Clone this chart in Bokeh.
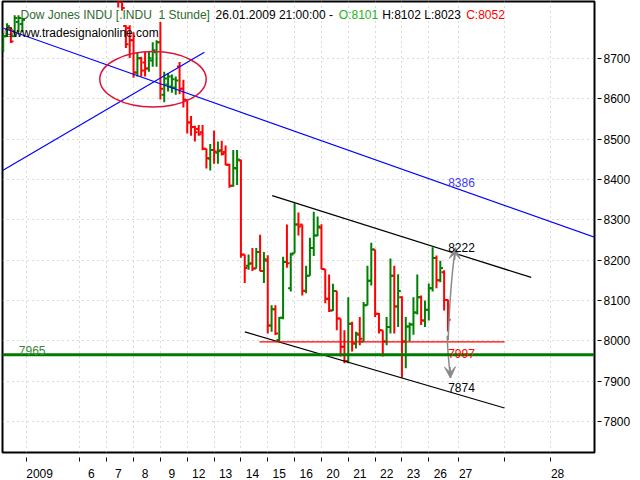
from bokeh.plotting import figure
from bokeh.models import ColumnDataSource, Range1d, FixedTicker, Label, Arrow, VeeHead, Span
from bokeh.embed import file_html
from bokeh.resources import INLINE

# ---------------- data ----------------
# day index: 0=31.12.2008, 1=02.01, 2=05.01, 3=06.01, 4=07.01, 5=08.01, 6=09.01, 7=12.01,
# 8=13.01, 9=14.01, 10=15.01, 11=16.01, 12=20.01, 13=21.01, 14=22.01, 15=23.01, 16=26.01
bar_day = ([0] * 6 + [4] * 4 + [5] * 7 + [6] * 7 + [7] * 7 + [8] * 7 + [9] * 7 + [10] * 7
           + [11] * 7 + [12] * 7 + [13] * 7 + [14] * 7 + [15] * 7 + [16] * 6)
bar_slot = ([1, 2, 3, 4, 5, 6] + [3, 4, 5, 6] + list(range(7)) * 12 + [0, 1, 2, 3, 4, 5])

bar_open = [8725, 8755, 8775, 8755, 8790, 8785,
            8900, 8850, 8780, 8775,
            8745, 8665, 8700, 8690, 8675, 8695, 8715,
            8740, 8610, 8635, 8630, 8628, 8680, 8625,
            8597, 8541, 8530, 8525, 8517, 8476, 8451,
            8473, 8466, 8472, 8468, 8436, 8384, 8427,
            8447, 8214, 8186, 8192, 8179, 8220, 8173,
            8198, 8038, 8078, 8002, 8057, 8196, 8130,
            8217, 8288, 8288, 8123, 8161, 8230, 8261,
            8280, 8177, 8104, 8075, 8123, 8055, 7985,
            7949, 8042, 7993, 8015, 7998, 8088, 8149,
            8226, 8067, 8026, 7998, 8034, 8161, 8085,
            8108, 7998, 8035, 8040, 8070, 8108, 8050,
            8077, 8130, 8205, 8150, 8170, 8101]
bar_high = [8762, 8787, 8778, 8807, 8807, 8800,
            8920, 8870, 8782, 8782,
            8765, 8716, 8704, 8716, 8716, 8740, 8745,
            8790, 8667, 8664, 8660, 8655, 8691, 8647,
            8598, 8557, 8533, 8535, 8535, 8476, 8488,
            8521, 8494, 8496, 8484, 8439, 8473, 8473,
            8449, 8214, 8214, 8230, 8230, 8263, 8220,
            8212, 8088, 8088, 8059, 8208, 8288, 8218,
            8341, 8318, 8288, 8186, 8255, 8320, 8308,
            8289, 8177, 8164, 8141, 8123, 8055, 8026,
            8108, 8047, 8022, 8059, 8096, 8186, 8243,
            8226, 8069, 8026, 8059, 8204, 8186, 8165,
            8110, 8059, 8045, 8108, 8164, 8112, 8100,
            8142, 8232, 8211, 8198, 8175, 8102]
bar_low = [8716, 8753, 8738, 8753, 8765, 8765,
           8826, 8818, 8726, 8701,
           8652, 8655, 8655, 8655, 8667, 8679, 8679,
           8598, 8591, 8618, 8615, 8610, 8611, 8578,
           8514, 8508, 8494, 8508, 8472, 8427, 8422,
           8439, 8439, 8459, 8435, 8379, 8382, 8386,
           8206, 8143, 8176, 8173, 8179, 8172, 8143,
           8018, 8022, 8014, 7998, 8053, 8181, 8122,
           8217, 8261, 8112, 8118, 8161, 8210, 8259,
           8177, 8093, 8071, 8074, 8026, 7961, 7944,
           7944, 7973, 7981, 7989, 7998, 8088, 8137,
           8059, 8018, 7961, 7989, 8018, 8018, 8034,
           7908, 7932, 7998, 8015, 8065, 8039, 8034,
           8050, 8122, 8130, 8145, 8075, 8023]
bar_close = [8755, 8780, 8742, 8800, 8800, 8795,
             8840, 8825, 8735, 8745,
             8665, 8700, 8670, 8675, 8700, 8720, 8740,
             8625, 8650, 8655, 8648, 8645, 8625, 8598,
             8541, 8530, 8517, 8512, 8476, 8453, 8473,
             8469, 8470, 8463, 8436, 8384, 8428, 8449,
             8213, 8180, 8191, 8179, 8220, 8173, 8202,
             8038, 8078, 8018, 8057, 8195, 8192, 8214,
             8288, 8283, 8124, 8161, 8230, 8261, 8283,
             8178, 8104, 8075, 8123, 8055, 7985, 7950,
             8042, 7993, 8018, 8005, 8088, 8149, 8226,
             8067, 8026, 7998, 8034, 8161, 8085, 8123,
             7998, 8035, 8040, 8070, 8108, 8050, 8077,
             8130, 8205, 8150, 8180, 8101, 8052]

bars_per_day = 7

# x-axis: day boundaries (ticks) and day labels
tick_days = [1, 3, 4, 5, 6, 7, 8, 9, 10, 11, 12, 13, 14, 15, 16, 17.12, 18.83, 20.55]
label_days = [1, 3, 4, 5, 6, 7, 8, 9, 10, 11, 12, 13, 14, 15, 16, 17.12, 20.55]
label_text = ["2009", "6", "7", "8", "9", "12", "13", "14", "15", "16",
              "20", "21", "22", "23", "26", "27", "28"]
price_ticks = [7800, 7900, 8000, 8100, 8200, 8300, 8400, 8500, 8600, 8700]

# drawn studies (day, price)
blue_down = ([0.10, 22.20], [8776, 8256])
blue_up = ([0.12, 7.64], [8422, 8715])
chan_top = ([10.165, 19.815], [8359.7, 8156.9])
chan_bot = ([9.145, 18.82], [8022.0, 7833.3])
support_red = ([9.692, 18.82], [7997, 7997])
support_green = 7965
circle_center = (5.724, 8648.1)
circle_size = (3.964, 137.3)

# ---------------- figure ----------------
X0, X1 = 0.117, 22.174
Y0, Y1 = 7722.9, 8841.0
p = figure(width=640, height=480, x_range=Range1d(X0, X1), y_range=Range1d(Y0, Y1),
           output_backend="svg", toolbar_location=None, y_axis_location="right",
           min_border_left=2, min_border_top=1, min_border_right=46, min_border_bottom=23)
p.background_fill_color = "white"
p.border_fill_color = "white"
p.outline_line_color = "black"
p.outline_line_width = 2

FONT = "Liberation Sans"

# x axis
centers = []
for d, t in zip(label_days, label_text):
    off = 0.5 if t == "2009" else (0.25 if d > 16.5 else 0.43)
    centers.append(round(d + off, 3))
p.xaxis.ticker = FixedTicker(ticks=centers, minor_ticks=tick_days)
p.xaxis.major_label_overrides = {c: t for c, t in zip(centers, label_text)}
p.xaxis.major_tick_in = 0
p.xaxis.major_tick_out = 0
p.xaxis.minor_tick_in = -5
p.xaxis.minor_tick_out = 9
p.xaxis.minor_tick_line_color = "black"
p.xaxis.minor_tick_line_width = 1
p.xaxis.axis_line_color = None
p.xaxis.major_label_standoff = 7
p.xaxis.major_label_text_font = FONT
p.xaxis.major_label_text_font_size = "12px"
p.xaxis.major_label_text_color = "black"

# y axis (right)
p.yaxis.ticker = FixedTicker(ticks=price_ticks)
p.yaxis.major_tick_in = -3
p.yaxis.major_tick_out = 7
p.yaxis.major_tick_line_color = "black"
p.yaxis.minor_tick_line_color = None
p.yaxis.axis_line_color = None
p.yaxis.major_label_standoff = 2
p.yaxis.major_label_text_font = FONT
p.yaxis.major_label_text_font_size = "12px"
p.yaxis.major_label_text_color = "black"

# grids
p.xgrid.grid_line_color = None
p.xgrid.minor_grid_line_color = "#b4b4b4"
p.xgrid.minor_grid_line_dash = "1 4"
p.ygrid.grid_line_color = "#b4b4b4"
p.ygrid.grid_line_dash = "1 4"

# ---------------- OHLC bars ----------------
tw = 0.1
xs = [d + s / bars_per_day for d, s in zip(bar_day, bar_slot)]
cols = ["#008000" if c >= o else "#ff0000" for o, c in zip(bar_open, bar_close)]
src = ColumnDataSource(dict(x=xs, xl=[x - tw for x in xs], xr=[x + tw for x in xs],
                            o=bar_open, h=bar_high, l=bar_low, c=bar_close, col=cols))
p.segment(x0="x", y0="l", x1="x", y1="h", line_color="col", line_width=2, source=src)
p.segment(x0="xl", y0="o", x1="x", y1="o", line_color="col", line_width=2, source=src)
p.segment(x0="x", y0="c", x1="xr", y1="c", line_color="col", line_width=2, source=src)

# ---------------- studies ----------------
p.line(blue_down[0], blue_down[1], line_color="#0000ff", line_width=1.2)
p.line(blue_up[0], blue_up[1], line_color="#0000ff", line_width=1.2)
p.line(chan_top[0], chan_top[1], line_color="black", line_width=1.2)
p.line(chan_bot[0], chan_bot[1], line_color="black", line_width=1.2)
p.line(support_red[0], support_red[1], line_color="#ff0000", line_width=1.2)
p.add_layout(Span(location=support_green, dimension="width", line_color="#007a00", line_width=3))
p.ellipse(x=[circle_center[0]], y=[circle_center[1]], width=[circle_size[0]],
          height=[circle_size[1]], fill_color=None, line_color="#dc143c", line_width=1.5)

# projection arrows
GRAY = "#8a8a8a"
p.bezier(x0=[16.723], y0=[8001.7], x1=[16.995], y1=[8230.5],
         cx0=[16.772], cy0=[8095.6], cx1=[16.884], cy1=[8181.4],
         line_color=GRAY, line_width=1.5)
p.bezier(x0=[16.686], y0=[8012.3], x1=[16.808], y1=[7907.6],
         cx0=[16.697], cy0=[7973.0], cx1=[16.753], cy1=[7941.2],
         line_color=GRAY, line_width=1.5)
p.add_layout(Arrow(end=VeeHead(size=11, fill_color=GRAY, line_color=GRAY),
                   x_start=16.96, y_start=8200, x_end=16.995, y_end=8230.5,
                   line_color=GRAY, line_width=1.5))
p.add_layout(Arrow(end=VeeHead(size=11, fill_color=GRAY, line_color=GRAY),
                   x_start=16.79, y_start=7935, x_end=16.808, y_end=7907.6,
                   line_color=GRAY, line_width=1.5))

# ---------------- texts ----------------
def lab(x, y, text, color="black"):
    p.add_layout(Label(x=x, y=y, text=text, text_color=color, text_font=FONT,
                       text_font_size="12px", text_align="left", text_baseline="alphabetic"))

TY = 8806.7
lab(0.788, TY, "Dow Jones INDU [.INDU\u00a0 1 Stunde]", "#2e6b2e")
lab(8.053, TY, "26.01.2009 21:00:00 -")
lab(12.647, TY, "O:8101", "#22b422")
lab(14.264, TY, "H:8102 L:8023")
lab(17.393, TY, "C:8052", "#ff0000")
lab(0.1915, 8762.6, "\u00a9www.tradesignalonline.com")
lab(22.378, 8807.9, "$")
lab(16.723, 8392.3, "8386", "#3c3cff")
lab(16.723, 8230.5, "8222")
lab(16.723, 7968.9, "7997", "#ff0000")
lab(16.723, 7883.0, "7874")
lab(0.724, 7974.7, "7965", "#3b8a3b")

open("out.html", "w").write(file_html(p, INLINE))
